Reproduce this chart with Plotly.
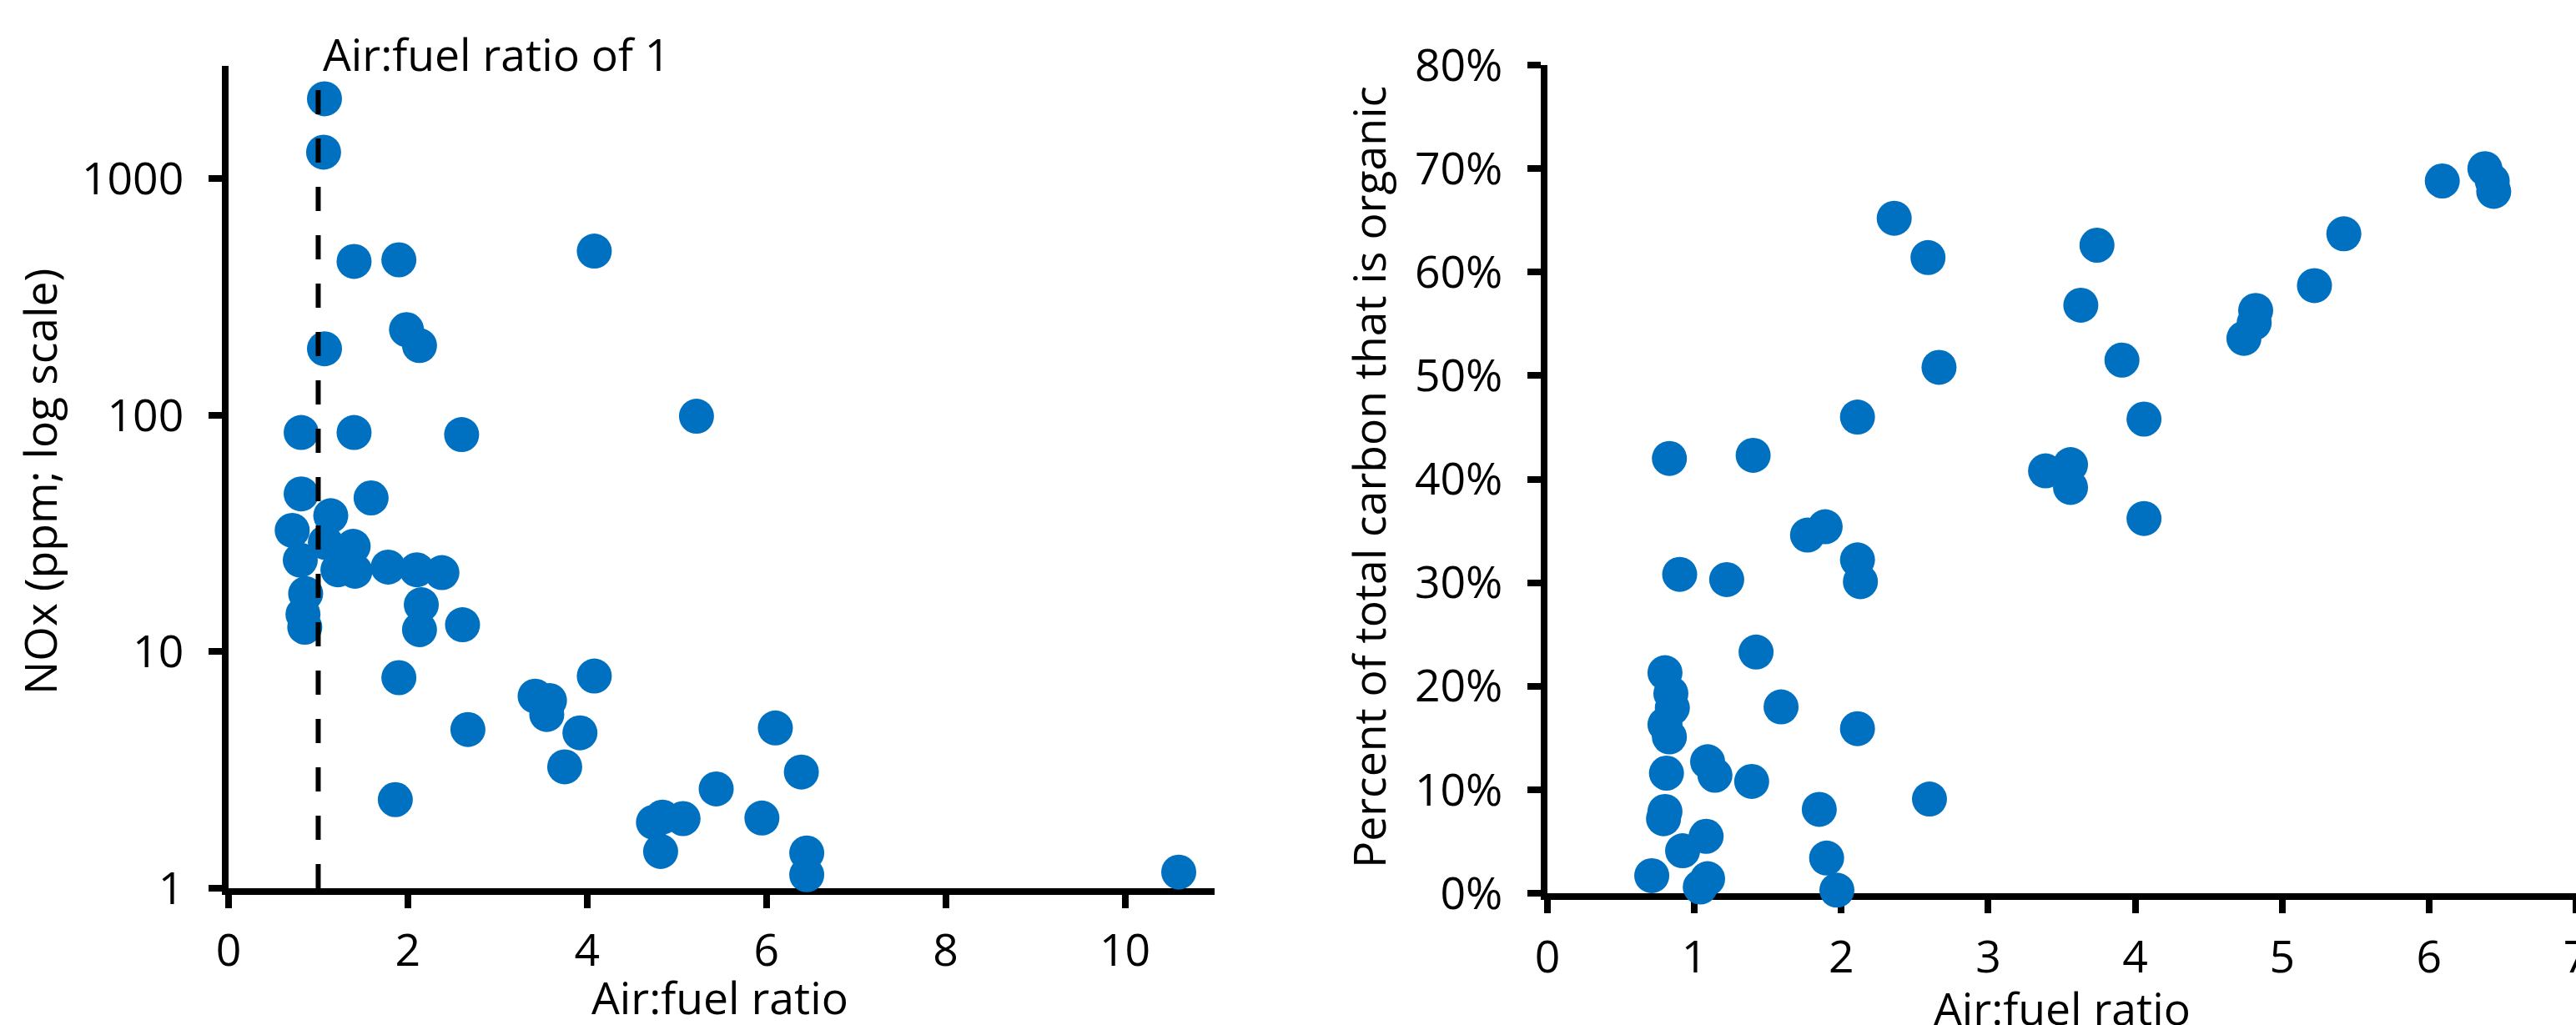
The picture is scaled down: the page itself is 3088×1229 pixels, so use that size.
import plotly.graph_objects as go

# ---------------- data ----------------
# Left panel: NOx vs air:fuel ratio
nox_afr = [1.07, 1.06, 1.40, 1.90, 4.08, 1.985, 2.13, 1.07, 0.81, 1.40, 2.60, 5.22,
           0.81, 1.59, 1.14, 0.71, 1.39, 1.08, 0.80, 1.22, 1.41, 1.78, 2.10, 2.38,
           0.86, 0.83, 0.85, 2.15, 2.13, 2.61, 1.90, 2.67, 3.42, 3.58, 3.55, 4.08,
           3.92, 3.75, 1.86, 4.74, 4.84, 5.07, 4.82, 5.44, 6.10, 6.39, 5.95, 6.45,
           6.45, 10.60]
nox_ppm = [2178, 1295, 447, 454, 494, 230, 197, 191, 84.5, 84.5, 82.8, 99,
           46.5, 44.7, 37.6, 32.6, 27.9, 29, 24.4, 22.2, 21.9, 22.8, 22.2, 21.6,
           17.6, 14.4, 12.7, 15.8, 12.4, 13.0, 7.77, 4.69, 6.49, 6.22, 5.43, 7.89,
           4.54, 3.26, 2.37, 1.90, 2.00, 1.97, 1.43, 2.63, 4.76, 3.10, 1.98, 1.41,
           1.14, 1.17]

# Right panel: organic carbon fraction vs air:fuel ratio
oc_afr = [2.36, 2.59, 2.665, 2.11, 0.83, 1.40, 1.77, 1.89, 2.11, 2.13, 0.90, 1.22,
          1.42, 0.80, 0.84, 0.85, 1.59, 0.80, 0.83, 2.11, 1.09, 1.14, 0.81, 1.39,
          2.60, 1.85, 0.80, 0.79, 1.08, 0.92, 1.90, 0.71, 1.09, 1.04, 1.97,
          3.74, 3.63, 3.91, 4.06, 3.39, 3.56, 3.56, 4.06, 4.74, 4.81, 4.82, 5.22,
          5.42, 6.09, 6.38, 6.43, 6.44]
oc_pct = [65.2, 61.4, 50.8, 46.0, 42.0, 42.3, 34.6, 35.4, 32.2, 30.1, 30.8, 30.3,
          23.3, 21.3, 19.3, 17.9, 18.0, 16.3, 15.1, 15.9, 12.7, 11.4, 11.6, 10.8,
          9.1, 8.1, 7.9, 7.2, 5.5, 4.1, 3.4, 1.7, 1.4, 0.6, 0.3,
          62.6, 56.8, 51.5, 45.8, 40.8, 41.4, 39.2, 36.2, 53.6, 55.1, 56.3, 58.7,
          63.7, 68.8, 70.0, 68.8, 67.8]
oc_frac = [v / 100 for v in oc_pct]

left_xticks = [0, 2, 4, 6, 8, 10]
left_yticks = [1, 10, 100, 1000]
right_xticks = [0, 1, 2, 3, 4, 5, 6, 7]
right_yticks = [0, 0.1, 0.2, 0.3, 0.4, 0.5, 0.6, 0.7, 0.8]
ref_afr = [1, 1]
ref_nox = [1, 3000]

# ---------------- figure ----------------
W, H = 3088, 1229
BLUE = "#0070C0"
FONT = "Open Sans"
FS = 53.5

def px(x):
    return x / W

def py(y):
    return 1 - y / H

fig = go.Figure()

fig.add_trace(go.Scatter(x=nox_afr, y=nox_ppm, mode="markers",
                         marker=dict(color=BLUE, size=42, line=dict(width=0)),
                         cliponaxis=False, xaxis="x", yaxis="y", showlegend=False))
fig.add_trace(go.Scatter(x=ref_afr, y=ref_nox, mode="lines",
                         line=dict(color="black", width=6, dash="29px,29px"),
                         cliponaxis=False, xaxis="x", yaxis="y", showlegend=False))
fig.add_trace(go.Scatter(x=oc_afr, y=oc_frac, mode="markers",
                         marker=dict(color=BLUE, size=42, line=dict(width=0)),
                         cliponaxis=False, xaxis="x2", yaxis="y2", showlegend=False))

axis_common = dict(showline=True, linecolor="black", linewidth=8, showgrid=False,
                   zeroline=False, ticks="outside", tickcolor="black", tickwidth=8,
                   ticklen=16, layer="below traces", automargin=False,
                   ticklabeloverflow="allow",
                   tickfont=dict(family=FONT, size=FS, color="black"))

fig.update_layout(
    width=W, height=H,
    margin=dict(l=0, r=0, t=0, b=0, autoexpand=False),
    paper_bgcolor="white", plot_bgcolor="white",
    font=dict(family=FONT, size=FS, color="black"),
    xaxis=dict(domain=[px(274), px(1456)], range=[0, 11], tickvals=left_xticks,
               anchor="y", ticklabelstandoff=5, **axis_common),
    yaxis=dict(domain=[py(1065), py(79)], type="log", range=[0, 3.477],
               tickvals=left_yticks, ticktext=[str(v) for v in left_yticks],
               anchor="x", ticklabelstandoff=19, **axis_common),
    xaxis2=dict(domain=[px(1855), 1.0], range=[0, 7], tickvals=right_xticks,
                anchor="y2", ticklabelstandoff=7, **axis_common),
    yaxis2=dict(domain=[py(1071), py(78)], range=[0, 0.8], tickvals=right_yticks,
                tickformat=".0%", anchor="x2", ticklabelstandoff=19, **axis_common),
    annotations=[
        dict(text="Air:fuel ratio of 1", xref="paper", yref="paper",
             x=px(385), y=py(64), xanchor="left", yanchor="middle",
             showarrow=False, font=dict(family=FONT, size=FS, color="black")),
        dict(text="Air:fuel ratio", xref="paper", yref="paper",
             x=px(863), y=py(1195), xanchor="center", yanchor="middle",
             showarrow=False, font=dict(family=FONT, size=FS, color="black")),
        dict(text="NOx (ppm; log scale)", xref="paper", yref="paper",
             x=px(48), y=py(578), xanchor="center", yanchor="middle", textangle=-90,
             showarrow=False, font=dict(family=FONT, size=FS, color="black")),
        dict(text="Air:fuel ratio", xref="paper", yref="paper",
             x=px(2472), y=py(1208), xanchor="center", yanchor="middle",
             showarrow=False, font=dict(family=FONT, size=FS, color="black")),
        dict(text="Percent of total carbon that is organic", xref="paper", yref="paper",
             x=px(1640), y=py(572), xanchor="center", yanchor="middle", textangle=-90,
             showarrow=False, font=dict(family=FONT, size=FS, color="black")),
    ],
)

fig.write_html("out.html",
               config={"displayModeBar": False},
               post_script="document.body.style.margin='0px';"
                           "document.body.style.overflow='hidden';")
